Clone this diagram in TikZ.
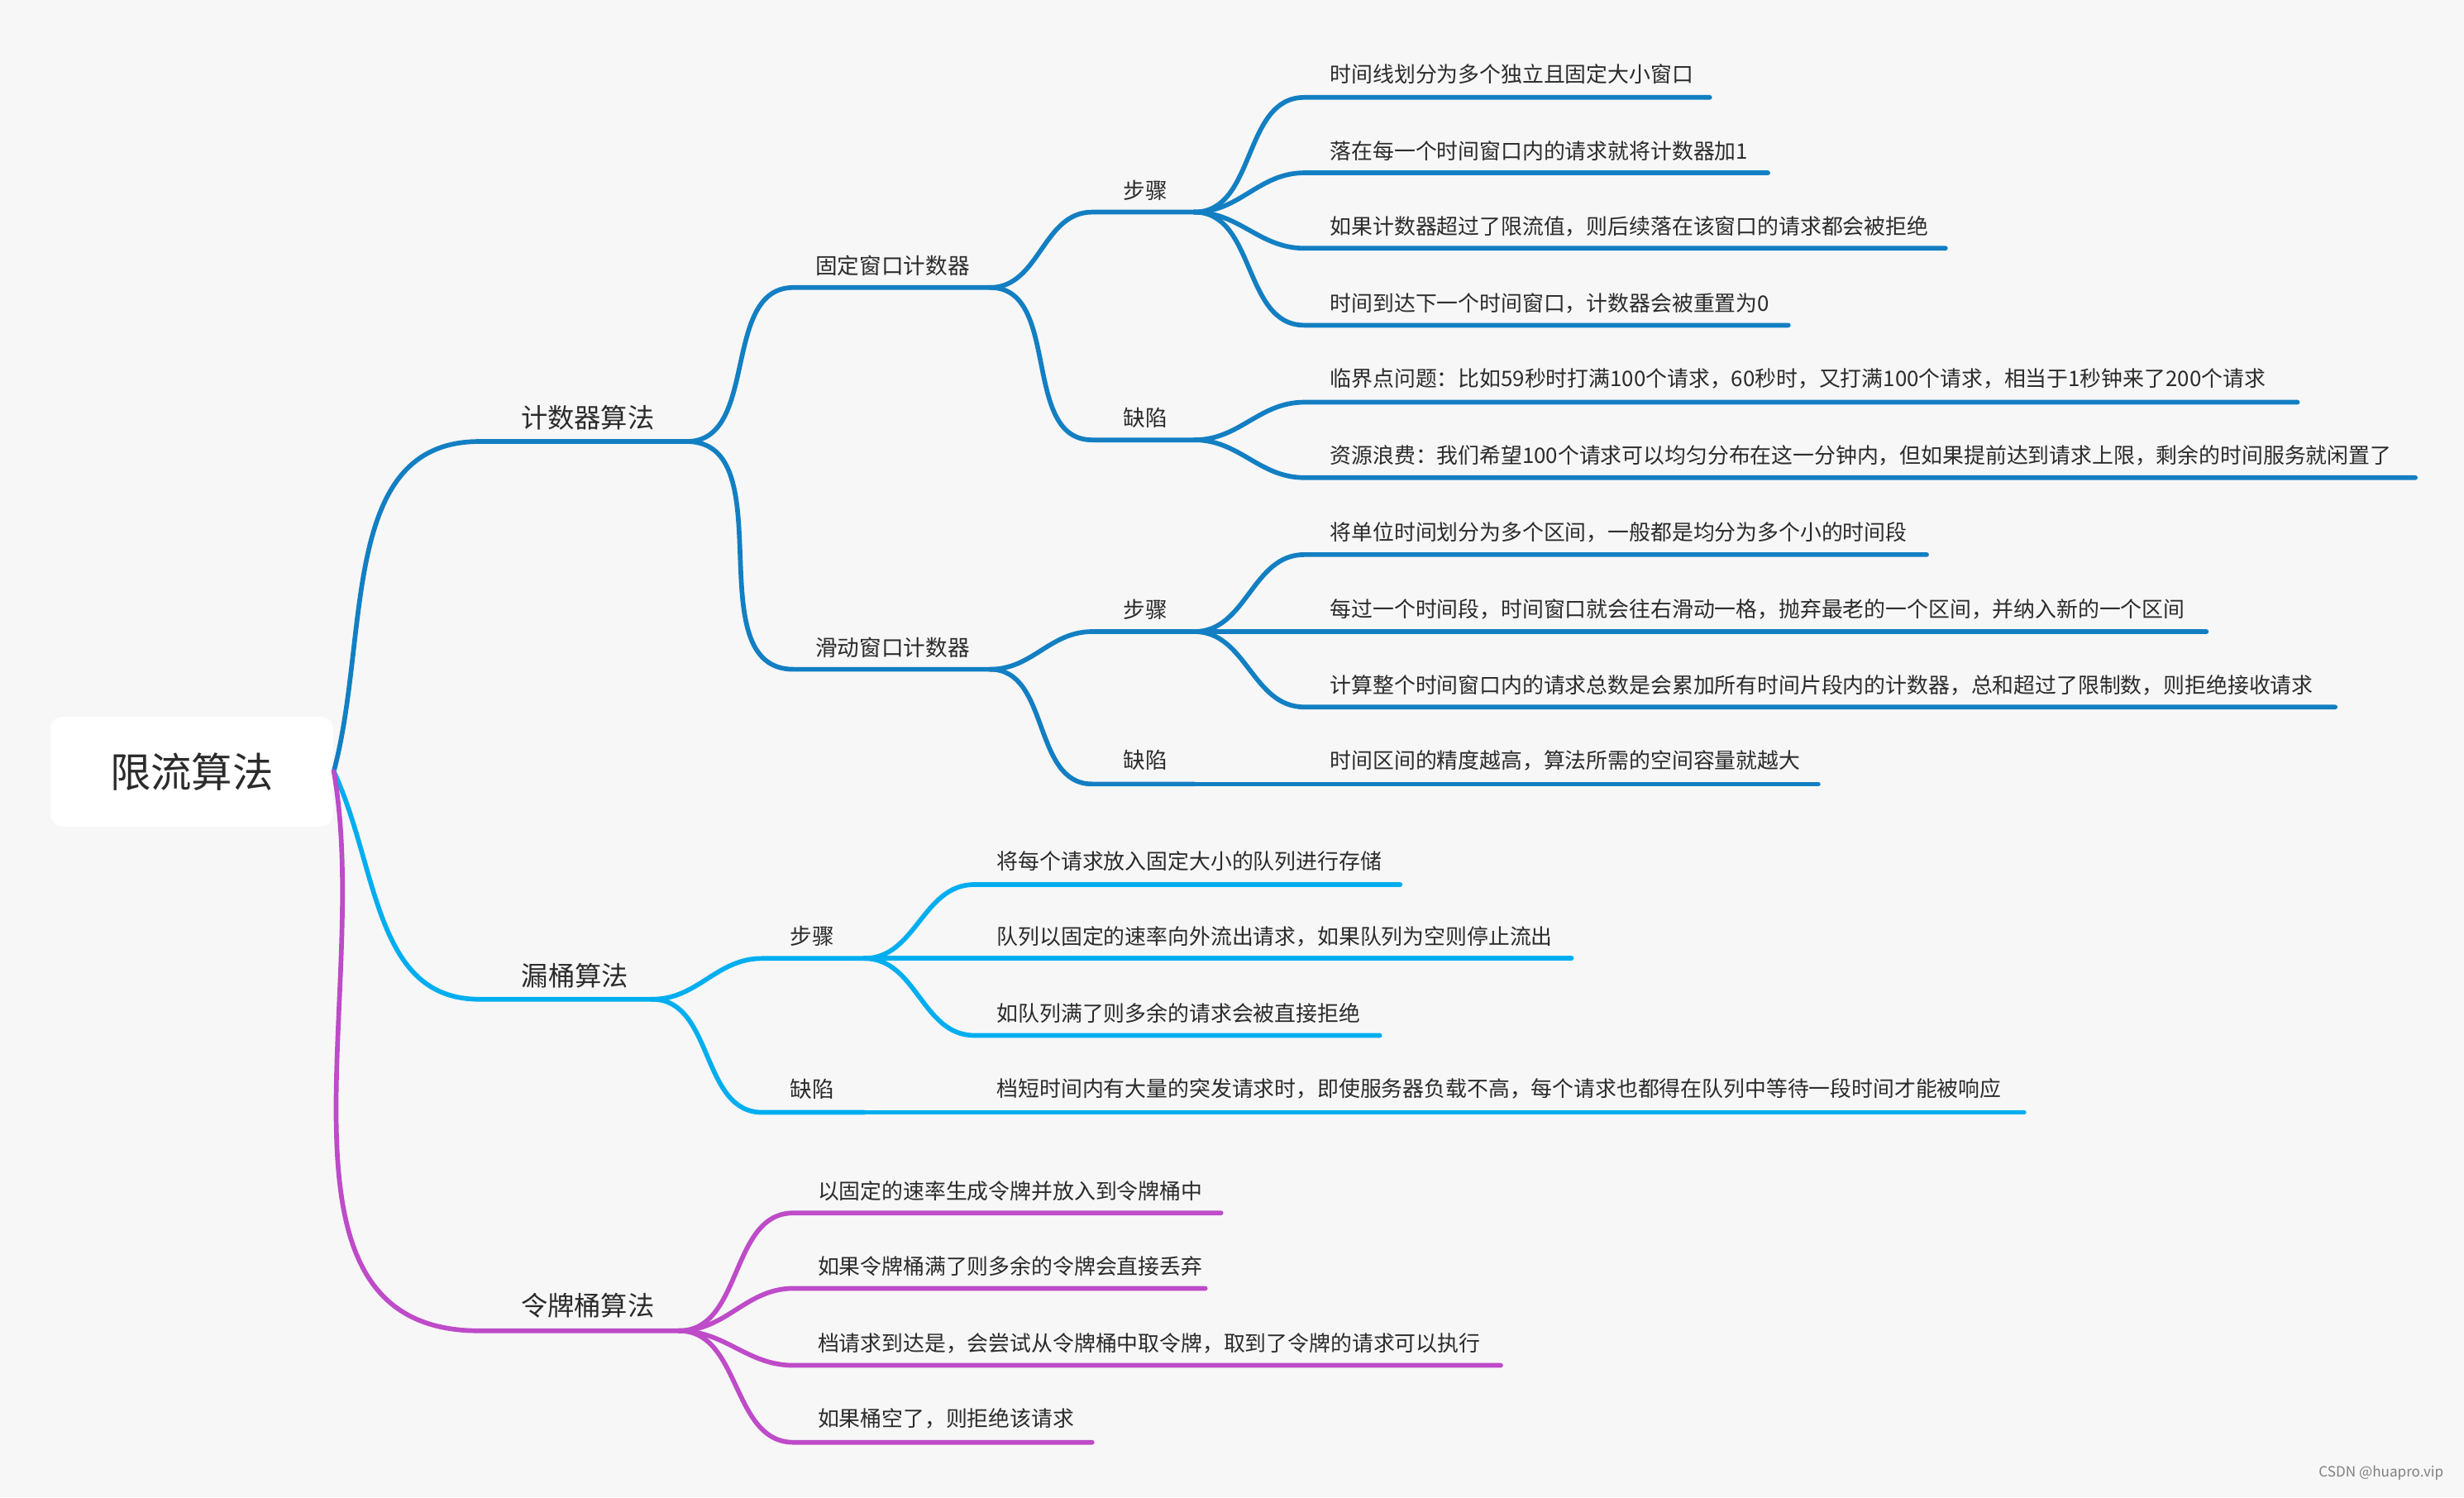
\documentclass[tikz,border=0pt]{standalone}
\usepackage{fontspec}
\setmainfont{Noto Sans CJK SC}
\usepackage{xcolor}
\definecolor{bgcol}{HTML}{F7F7F7}
\definecolor{deepblue}{HTML}{137FC3}
\definecolor{skyblue}{HTML}{00AEEF}
\definecolor{violet}{HTML}{BE4BC8}
\definecolor{ink}{HTML}{2B2B2B}
\tikzset{
  rootbox/.style={fill=white, rounded corners=4pt, minimum width=90pt, minimum height=35pt, text=ink, font=\fontsize{13}{15}\selectfont},
  topic/.style={text=ink, font=\fontsize{8.5}{10}\selectfont},
  sub/.style={text=ink, font=\fontsize{7}{8}\selectfont},
  leaf/.style={anchor=west, inner sep=0pt, text=ink, font=\fontsize{6.8}{8}\selectfont},
  bluebranch/.style={draw=deepblue, line width=1.5pt, line cap=round},
  skybranch/.style={draw=skyblue, line width=1.5pt, line cap=round},
  violetbranch/.style={draw=violet, line width=1.5pt, line cap=round},
}
\begin{document}
\begin{tikzpicture}[x=0.5pt,y=-0.5pt]
\fill[bgcol] (0,0) rectangle (1568,953);

% Root
\node[rootbox] (root) at (122,491) {限流算法};

% Text Node
\node[topic] (cnt) at (374,266) {计数器算法};
\coordinate (cnt-s) at (305,281); \coordinate (cnt-e) at (437,281);
% Text Node
\node[topic] (leak) at (366,621) {漏桶算法};
\coordinate (leak-s) at (305,636); \coordinate (leak-e) at (415,636);
% Text Node
\node[topic] (tok) at (374,831) {令牌桶算法};
\coordinate (tok-s) at (305,847); \coordinate (tok-e) at (432,847);

% Connection
\draw[bluebranch] (root.east) to[out=75,in=180] (cnt-s) -- (cnt-e);
\draw[skybranch] (root.east) to[out=-65,in=180] (leak-s) -- (leak-e);
\draw[violetbranch] (root.east) to[out=-80,in=180] (tok-s) -- (tok-e);

% Text Node
\node[sub] (fix) at (568,169) {固定窗口计数器};
\coordinate (fix-s) at (505,183); \coordinate (fix-e) at (630,183);
% Text Node
\node[sub] (slide) at (568,412) {滑动窗口计数器};
\coordinate (slide-s) at (505,426); \coordinate (slide-e) at (630,426);
% Connection
\draw[bluebranch] (cnt-e) to[out=0,in=180] (fix-s) -- (fix-e);
\draw[bluebranch] (cnt-e) to[out=0,in=180] (slide-s) -- (slide-e);

% Text Node
\node[sub] (fixstep) at (729,121) {步骤};
\coordinate (fixstep-s) at (695,135); \coordinate (fixstep-e) at (760,135);
% Text Node
\node[sub] (fixflaw) at (729,266) {缺陷};
\coordinate (fixflaw-s) at (695,280); \coordinate (fixflaw-e) at (760,280);
% Connection
\draw[bluebranch] (fix-e) to[out=0,in=180] (fixstep-s) -- (fixstep-e);
\draw[bluebranch] (fix-e) to[out=0,in=180] (fixflaw-s) -- (fixflaw-e);

% Text Node
\node[leaf] (fs1) at (846,47) {时间线划分为多个独立且固定大小窗口};
\node[leaf] (fs2) at (846,96) {落在每一个时间窗口内的请求就将计数器加1};
\node[leaf] (fs3) at (846,144) {如果计数器超过了限流值，则后续落在该窗口的请求都会被拒绝};
\node[leaf] (fs4) at (846,193) {时间到达下一个时间窗口，计数器会被重置为0};
\coordinate (fs1-s) at (830,62);  \coordinate (fs1-e) at (1088,62);
\coordinate (fs2-s) at (830,110); \coordinate (fs2-e) at (1125,110);
\coordinate (fs3-s) at (830,158); \coordinate (fs3-e) at (1238,158);
\coordinate (fs4-s) at (830,207); \coordinate (fs4-e) at (1138,207);
% Connection
\draw[bluebranch] (fixstep-e) to[out=0,in=180] (fs1-s) -- (fs1-e);
\draw[bluebranch] (fixstep-e) to[out=0,in=180] (fs2-s) -- (fs2-e);
\draw[bluebranch] (fixstep-e) to[out=0,in=180] (fs3-s) -- (fs3-e);
\draw[bluebranch] (fixstep-e) to[out=0,in=180] (fs4-s) -- (fs4-e);

% Text Node
\node[leaf] (ff1) at (846,241) {临界点问题：比如59秒时打满100个请求，60秒时，又打满100个请求，相当于1秒钟来了200个请求};
\node[leaf] (ff2) at (846,290) {资源浪费：我们希望100个请求可以均匀分布在这一分钟内，但如果提前达到请求上限，剩余的时间服务就闲置了};
\coordinate (ff1-s) at (830,256); \coordinate (ff1-e) at (1462,256);
\coordinate (ff2-s) at (830,304); \coordinate (ff2-e) at (1537,304);
% Connection
\draw[bluebranch] (fixflaw-e) to[out=0,in=180] (ff1-s) -- (ff1-e);
\draw[bluebranch] (fixflaw-e) to[out=0,in=180] (ff2-s) -- (ff2-e);

% Text Node
\node[sub] (slistep) at (729,388) {步骤};
\coordinate (slistep-s) at (695,402); \coordinate (slistep-e) at (760,402);
% Text Node
\node[sub] (sliflaw) at (729,484) {缺陷};
\coordinate (sliflaw-s) at (695,499); \coordinate (sliflaw-e) at (760,499);
% Connection
\draw[bluebranch] (slide-e) to[out=0,in=180] (slistep-s) -- (slistep-e);
\draw[bluebranch] (slide-e) to[out=0,in=180] (sliflaw-s) -- (sliflaw-e);

% Text Node
\node[leaf] (ss1) at (846,339) {将单位时间划分为多个区间，一般都是均分为多个小的时间段};
\node[leaf] (ss2) at (846,388) {每过一个时间段，时间窗口就会往右滑动一格，抛弃最老的一个区间，并纳入新的一个区间};
\node[leaf] (ss3) at (846,436) {计算整个时间窗口内的请求总数是会累加所有时间片段内的计数器，总和超过了限制数，则拒绝接收请求};
\coordinate (ss1-s) at (830,353); \coordinate (ss1-e) at (1226,353);
\coordinate (ss2-e) at (1404,402);
\coordinate (ss3-s) at (830,450); \coordinate (ss3-e) at (1486,450);
% Connection
\draw[bluebranch] (slistep-e) to[out=0,in=180] (ss1-s) -- (ss1-e);
\draw[bluebranch] (slistep-e) -- (ss2-e);
\draw[bluebranch] (slistep-e) to[out=0,in=180] (ss3-s) -- (ss3-e);

% Text Node
\node[leaf] (sf1) at (846,484) {时间区间的精度越高，算法所需的空间容量就越大};
\coordinate (sf1-e) at (1157,499);
% Connection
\draw[bluebranch] (sliflaw-e) -- (sf1-e);

% Text Node
\node[sub] (leakstep) at (517,596) {步骤};
\coordinate (leakstep-s) at (485,610); \coordinate (leakstep-e) at (550,610);
% Text Node
\node[sub] (leakflaw) at (517,693) {缺陷};
\coordinate (leakflaw-s) at (485,708); \coordinate (leakflaw-e) at (550,708);
% Connection
\draw[skybranch] (leak-e) to[out=0,in=180] (leakstep-s) -- (leakstep-e);
\draw[skybranch] (leak-e) to[out=0,in=180] (leakflaw-s) -- (leakflaw-e);

% Text Node
\node[leaf] (ls1) at (634,548) {将每个请求放入固定大小的队列进行存储};
\node[leaf] (ls2) at (634,596) {队列以固定的速率向外流出请求，如果队列为空则停止流出};
\node[leaf] (ls3) at (634,645) {如队列满了则多余的请求会被直接拒绝};
\coordinate (ls1-s) at (620,563); \coordinate (ls1-e) at (891,563);
\coordinate (ls2-s) at (620,610); \coordinate (ls2-e) at (1000,610);
\coordinate (ls3-s) at (620,659); \coordinate (ls3-e) at (878,659);
% Connection
\draw[skybranch] (leakstep-e) to[out=0,in=180] (ls1-s) -- (ls1-e);
\draw[skybranch] (leakstep-e) -- (ls2-e);
\draw[skybranch] (leakstep-e) to[out=0,in=180] (ls3-s) -- (ls3-e);

% Text Node
\node[leaf] (lf1) at (634,693) {档短时间内有大量的突发请求时，即使服务器负载不高，每个请求也都得在队列中等待一段时间才能被响应};
\coordinate (lf1-e) at (1288,708);
% Connection
\draw[skybranch] (leakflaw-e) -- (lf1-e);

% Text Node
\node[leaf] (t1) at (520,758) {以固定的速率生成令牌并放入到令牌桶中};
\node[leaf] (t2) at (520,806) {如果令牌桶满了则多余的令牌会直接丢弃};
\node[leaf] (t3) at (520,855) {档请求到达是，会尝试从令牌桶中取令牌，取到了令牌的请求可以执行};
\node[leaf] (t4) at (520,903) {如果桶空了，则拒绝该请求};
\coordinate (t1-s) at (505,772); \coordinate (t1-e) at (777,772);
\coordinate (t2-s) at (505,820); \coordinate (t2-e) at (767,820);
\coordinate (t3-s) at (505,869); \coordinate (t3-e) at (955,869);
\coordinate (t4-s) at (505,918); \coordinate (t4-e) at (695,918);
% Connection
\draw[violetbranch] (tok-e) to[out=0,in=180] (t1-s) -- (t1-e);
\draw[violetbranch] (tok-e) to[out=0,in=180] (t2-s) -- (t2-e);
\draw[violetbranch] (tok-e) to[out=0,in=180] (t3-s) -- (t3-e);
\draw[violetbranch] (tok-e) to[out=0,in=180] (t4-s) -- (t4-e);

% Text Node
\node[anchor=south east, text=gray, font=\fontsize{4.5}{5}\selectfont] (mark) at (1562,949) {CSDN @huapro.vip};
\end{tikzpicture}
\end{document}
